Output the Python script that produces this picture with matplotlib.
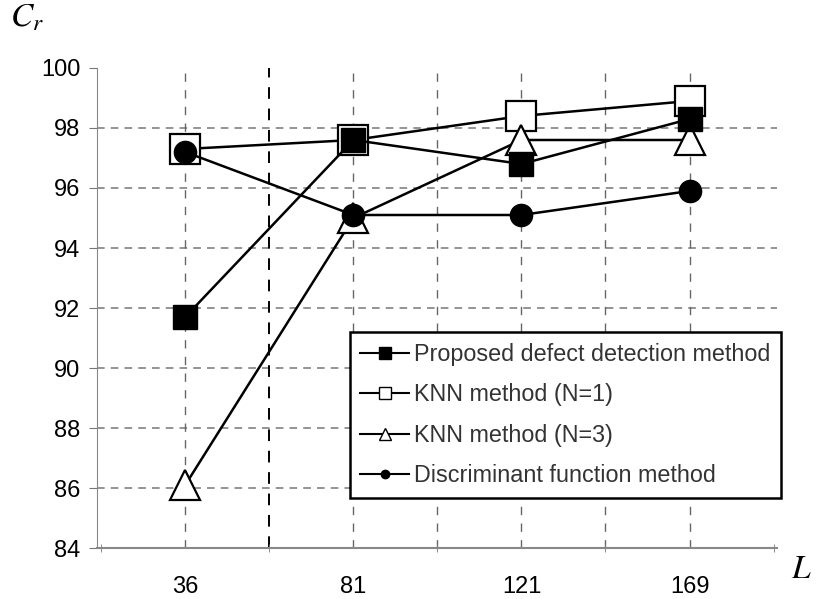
import matplotlib
matplotlib.use("Agg")
import matplotlib.pyplot as plt
from matplotlib.lines import Line2D

plt.rcParams['font.family'] = ['Liberation Sans', 'DejaVu Sans']
plt.rcParams['mathtext.fontset'] = 'stix'

# data
lengths = ['36', '81', '121', '169']
proposed = [91.7, 97.6, 96.8, 98.3]
knn1 = [97.3, 97.6, 98.4, 98.9]
knn3 = [86.1, 95.0, 97.6, 97.6]
discr = [97.2, 95.1, 95.1, 95.9]
labels = ['Proposed defect detection method', 'KNN method (N=1)',
          'KNN method (N=3)', 'Discriminant function method']

pos = [1, 3, 5, 7]

fig = plt.figure(figsize=(8.17, 5.99), dpi=100)
ax = fig.add_axes([0.1187, 0.0851, 0.8323, 0.8014])

# grid
for y in range(86, 99, 2):
    ax.axhline(y, color='#777777', lw=1.1, ls=(0, (5, 4)), zorder=0)
for x in range(1, 8):
    if x == 2:
        ax.axvline(x, color='black', lw=1.4, ls=(0, (6, 5)), zorder=0)
    else:
        ax.axvline(x, color='#666666', lw=1.0, ls=(0, (6, 6)), zorder=0)

lw = 1.8
ax.plot(pos, knn1, color='black', lw=lw, marker='s', ms=22, mfc='white',
        mec='black', mew=1.6, zorder=3)
ax.plot(pos, knn3, color='black', lw=lw, marker='^', ms=22, mfc='white',
        mec='black', mew=1.6, zorder=3)
ax.plot(pos, proposed, color='black', lw=lw, marker='s', ms=17, mfc='black',
        mec='black', zorder=4)
ax.plot(pos, discr, color='black', lw=lw, marker='o', ms=16, mfc='black',
        mec='black', zorder=5)

ax.set_xlim(-0.05, 8.04)
ax.set_ylim(84, 100)
ax.set_xticks(pos)
ax.set_xticklabels(lengths)
ax.set_xticks(range(0, 9), minor=True)
ax.set_yticks(range(84, 101, 2))
ax.tick_params(axis='both', labelsize=17, colors='black')
ax.tick_params(axis='x', length=0, pad=20)
ax.tick_params(axis='x', which='minor', length=6, direction='inout', color='#777777')
ax.tick_params(axis='y', length=6, color='#777777', pad=6)

for s in ['top', 'right']:
    ax.spines[s].set_visible(False)
ax.spines['left'].set_color('#888888')
ax.spines['bottom'].set_color('#888888')
ax.spines['bottom'].set_linewidth(1.5)

fig.text(0.012, 0.955, '$C_r$', fontsize=24)
fig.text(0.968, 0.035, '$L$', fontsize=24)

handles = [
    Line2D([], [], color='black', lw=1.5, marker='s', ms=9, mfc='black'),
    Line2D([], [], color='black', lw=1.5, marker='s', ms=8, mfc='white'),
    Line2D([], [], color='black', lw=1.5, marker='^', ms=8, mfc='white'),
    Line2D([], [], color='black', lw=1.5, marker='o', ms=6, mfc='black'),
]
leg = fig.legend(handles, labels, loc='upper left',
                 bbox_to_anchor=(0.428, 0.445), fontsize=16.8, frameon=True,
                 fancybox=False, edgecolor='black', framealpha=1,
                 handlelength=2.1, handletextpad=0.2, labelspacing=0.75,
                 borderpad=0.45, borderaxespad=0)
leg.get_frame().set_linewidth(1.8)
for t in leg.get_texts():
    t.set_color('#333333')

fig.savefig('out.png', dpi=100)
